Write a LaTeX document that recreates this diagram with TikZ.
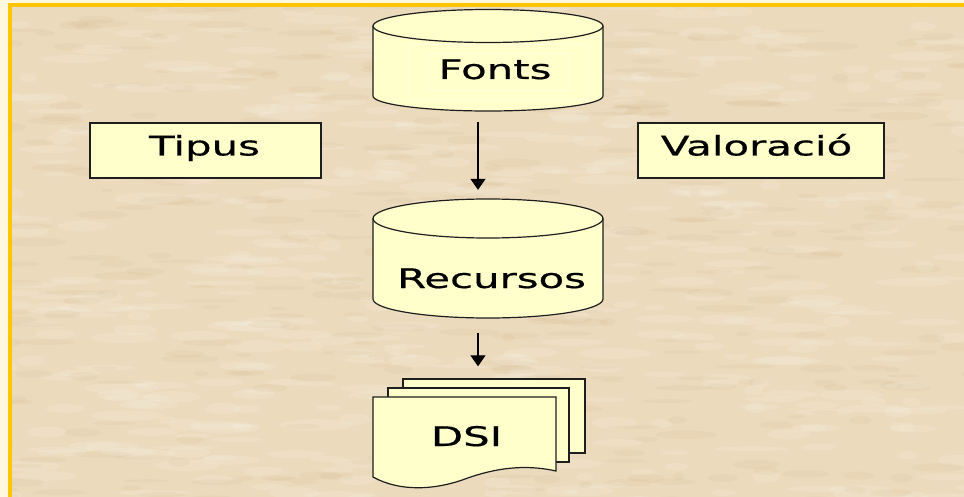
\documentclass[tikz,border=0pt]{standalone}
\usepackage{fontspec}
\newfontfamily\dvs[FakeStretch=1.55,FakeBold=0.6]{DejaVu Sans}
\usetikzlibrary{arrows.meta,calc}
\definecolor{bgc}{HTML}{EBDABC}
\definecolor{outerc}{HTML}{FFF7DE}
\definecolor{goldc}{HTML}{FFC600}
\definecolor{shapefill}{HTML}{FFFFCC}
\definecolor{edgec}{HTML}{1E1E1E}
\definecolor{darkspot}{HTML}{C9A878}
\tikzset{
  shp/.style={fill=shapefill, draw=edgec, line width=1.2pt},
  edgeonly/.style={draw=edgec, line width=1.2pt},
  frame/.style={inner sep=0pt, minimum width=#1},
  lbl/.style={font=\dvs\fontsize{27}{30}\selectfont, anchor=base, inner sep=0pt, text=black},
  arr/.style={draw=black, line width=1.3pt, -{Triangle[width=15pt,length=11pt]}},
  faint/.style={draw=white, opacity=0.4, line width=0.8pt}
}
\begin{document}
\begin{tikzpicture}[x=1pt,y=-1pt]
\useasboundingbox (0,0) rectangle (964,497);
\fill[outerc] (0,0) rectangle (964,497);
\fill[bgc] (9.5,5.5) rectangle (964,497);
% parchment texture
\begin{scope}
\clip (9.5,5.5) rectangle (964,497);
\pgfmathsetseed{7}
\foreach \i in {1,...,500}{
  \pgfmathsetmacro\xx{rnd*980}
  \pgfmathsetmacro\yy{rnd*510}
  \pgfmathsetmacro\rx{8+rnd*30}
  \pgfmathsetmacro\ry{2+rnd*4}
  \fill[white,opacity=0.12] (\xx,\yy) ellipse [x radius=\rx, y radius=\ry];
}
\foreach \i in {1,...,400}{
  \pgfmathsetmacro\xx{rnd*980}
  \pgfmathsetmacro\yy{rnd*510}
  \pgfmathsetmacro\rx{6+rnd*25}
  \pgfmathsetmacro\ry{1.5+rnd*3}
  \fill[darkspot,opacity=0.09] (\xx,\yy) ellipse [x radius=\rx, y radius=\ry];
}
\end{scope}
\draw[goldc, line width=4pt] (9.5,497) -- (9.5,5.5) -- (964,5.5);

% ---- Fonts cylinder
\path[fill=shapefill] (373,26) -- (373,96) arc[start angle=180, end angle=0, x radius=115, y radius=15] -- (603,26) arc[start angle=0, end angle=-180, x radius=115, y radius=16.5] -- cycle;
\draw[edgeonly] (373,26) -- (373,96) arc[start angle=180, end angle=0, x radius=115, y radius=15] -- (603,26);
\draw[edgeonly] (488,26) ellipse [x radius=115, y radius=16.5];
\draw[faint] (408,44) rectangle (587,100);
\draw[faint] (428,53) rectangle (568,90);
\node[frame=230pt, minimum height=101pt] (fonts) at (488,60.5) {};
\node[lbl] (fontsT) at (495,79) {Fonts};

% ---- Recursos cylinder
\path[fill=shapefill] (373,218.5) -- (373,299) arc[start angle=180, end angle=0, x radius=115, y radius=19] -- (603,218.5) arc[start angle=0, end angle=-180, x radius=115, y radius=19.5] -- cycle;
\draw[edgeonly] (373,218.5) -- (373,299) arc[start angle=180, end angle=0, x radius=115, y radius=19] -- (603,218.5);
\draw[edgeonly] (488,218.5) ellipse [x radius=115, y radius=19.5];
\node[frame=230pt, minimum height=119pt] (recursos) at (488,258.5) {};
\node[lbl] (recursosT) at (491.5,288) {Recursos};

% ---- side boxes
\node[shp, frame=231pt, minimum height=55pt] (tipus) at (205.5,150.5) {};
\node[lbl] (tipusT) at (204.5,155.5) {Tipus};
\node[shp, frame=246pt, minimum height=55pt] (valoracio) at (761,150.5) {};
\node[lbl] (valoracioT) at (756.5,155.5) {Valoració};

% ---- DSI multi-document
\draw[shp] (403,379) rectangle (585,453);
\draw[shp] (388,388) rectangle (569,462);
\draw[shp] (373,397) -- (556,397) -- (556,471)
   .. controls (525,464) and (495,468) .. (465,479)
   .. controls (435,490) and (400,492) .. (373,477) -- cycle;
\node[frame=212pt, minimum height=113pt] (dsi) at (479,435) {};
\node[lbl] (dsiT) at (466.5,446) {DSI};

% ---- connectors
\coordinate (ax) at (478,0);
\draw[arr, shorten <=11pt, shorten >=9pt] (fonts.south -| ax) -- (recursos.north -| ax);
\draw[arr, shorten <=15pt, shorten >=12pt] (recursos.south -| ax) -- (dsi.north -| ax);
\end{tikzpicture}
\end{document}
